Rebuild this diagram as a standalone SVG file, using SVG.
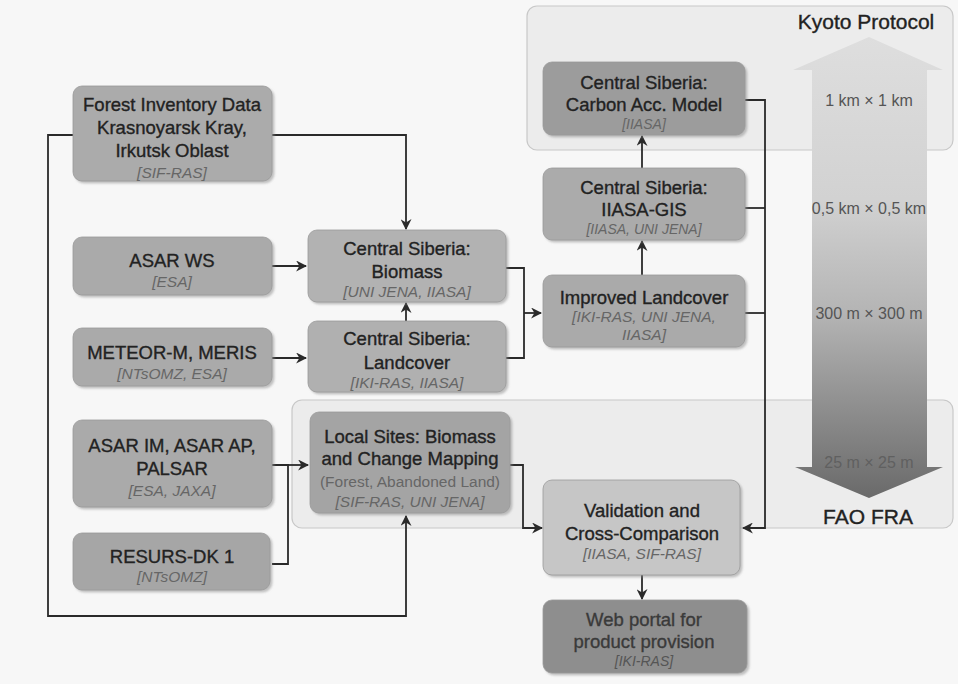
<svg xmlns="http://www.w3.org/2000/svg" width="958" height="684" viewBox="0 0 958 684">
<defs>
<marker id="ah" viewBox="0 0 10 10" refX="9" refY="5" markerWidth="11" markerHeight="11" markerUnits="userSpaceOnUse" orient="auto">
<path d="M0,0 L10,5 L0,10 L3,5 z" fill="#2a2a2a"/>
</marker>
<linearGradient id="bigArrow" x1="0" y1="0" x2="0" y2="1">
<stop offset="0" stop-color="#dedede"/>
<stop offset="0.35" stop-color="#d2d2d2"/>
<stop offset="0.6" stop-color="#b4b4b4"/>
<stop offset="1" stop-color="#6a6a6a"/>
</linearGradient>
<filter id="sh" x="-5%" y="-5%" width="115%" height="120%">
<feDropShadow dx="2" dy="2" stdDeviation="1" flood-color="#888" flood-opacity="0.5"/>
</filter>
</defs>
<style>
.bg{fill:#f7f7f7}
.cont{fill:#ececec;stroke:#c8c8c8;stroke-width:1.2}
.box{stroke:#9a9a9a;stroke-width:0.8;filter:url(#sh)}
.t{font-family:"Liberation Sans",Arial,sans-serif;font-size:18.5px;fill:#222;stroke:#222;stroke-width:0.35;text-anchor:middle}
.s{font-family:"Liberation Sans",Arial,sans-serif;font-size:15.5px;font-style:italic;fill:#666;text-anchor:middle}
.ss{font-family:"Liberation Sans",Arial,sans-serif;font-size:14px;font-style:italic;fill:#666;text-anchor:middle}
.p{font-family:"Liberation Sans",Arial,sans-serif;font-size:15.5px;fill:#666;text-anchor:middle}
.k{font-family:"Liberation Sans",Arial,sans-serif;font-size:21px;fill:#222;stroke:#222;stroke-width:0.35;text-anchor:middle}
.r{font-family:"Liberation Sans",Arial,sans-serif;font-size:16px;fill:#555;text-anchor:middle}
.c{fill:none;stroke:#2a2a2a;stroke-width:1.8}
</style>
<rect class="bg" x="0" y="0" width="958" height="684"/>

<g id="kyoto-region">
<rect class="cont" x="527" y="6" width="426" height="144" rx="10"/>
<text class="k" x="866" y="29">Kyoto Protocol</text>
</g>
<g id="fao-region">
<rect class="cont" x="292" y="400" width="661" height="128" rx="10"/>
</g>

<g id="scale-arrow">
<polygon points="869,37 943,70 927,70 927,467 943,467 869,498 795,467 812,467 812,70 793,70" fill="url(#bigArrow)"/>
<text class="r" x="869" y="106">1 km × 1 km</text>
<text class="r" x="869" y="214">0,5 km × 0,5 km</text>
<text class="r" x="869" y="319">300 m × 300 m</text>
<text class="r" x="869" y="468" style="fill:#606060">25 m × 25 m</text>
<text class="k" x="868" y="524">FAO FRA</text>
</g>

<g id="connectors">
<polyline class="c" points="73,135 48,135 48,616 406,616 406,516" marker-end="url(#ah)"/>
<polyline class="c" points="272,135 406,135 406,229" marker-end="url(#ah)"/>
<line class="c" x1="272" y1="266" x2="306" y2="266" marker-end="url(#ah)"/>
<line class="c" x1="272" y1="358" x2="306" y2="358" marker-end="url(#ah)"/>
<line class="c" x1="406" y1="321" x2="406" y2="303" marker-end="url(#ah)"/>
<polyline class="c" points="506,268 524,268 524,358 506,358"/>
<line class="c" x1="524" y1="313" x2="541" y2="313" marker-end="url(#ah)"/>
<line class="c" x1="642" y1="275" x2="642" y2="241" marker-end="url(#ah)"/>
<line class="c" x1="642" y1="168" x2="642" y2="136" marker-end="url(#ah)"/>
<polyline class="c" points="745,100 765,100 765,528 743,528" marker-end="url(#ah)"/>
<line class="c" x1="745" y1="208" x2="765" y2="208"/>
<line class="c" x1="745" y1="313" x2="765" y2="313"/>
<polyline class="c" points="272,465 288,465 288,564 272,564"/>
<line class="c" x1="288" y1="465" x2="308" y2="465" marker-end="url(#ah)"/>
<polyline class="c" points="510,465 523,465 523,528 542,528" marker-end="url(#ah)"/>
<line class="c" x1="642" y1="575" x2="642" y2="599" marker-end="url(#ah)"/>
</g>

<g id="forest-inventory">
<rect class="box" x="73" y="86" width="199" height="95" rx="9" fill="#ababab"/>
<text class="t" x="172" y="111">Forest Inventory Data</text>
<text class="t" x="172" y="134">Krasnoyarsk Kray,</text>
<text class="t" x="172" y="157">Irkutsk Oblast</text>
<text class="s" x="172" y="178">[SIF-RAS]</text>
</g>
<g id="asar-ws">
<rect class="box" x="73" y="237" width="199" height="58" rx="9" fill="#aaaaaa"/>
<text class="t" x="172" y="267">ASAR WS</text>
<text class="s" x="172" y="287">[ESA]</text>
</g>
<g id="meteor">
<rect class="box" x="73" y="328" width="199" height="58" rx="9" fill="#aaaaaa"/>
<text class="t" x="172" y="359">METEOR-M, MERIS</text>
<text class="s" x="172" y="379">[NTsOMZ, ESA]</text>
</g>
<g id="asar-im">
<rect class="box" x="73" y="420" width="199" height="87" rx="9" fill="#aaaaaa"/>
<text class="t" x="172" y="452">ASAR IM, ASAR AP,</text>
<text class="t" x="172" y="475">PALSAR</text>
<text class="s" x="172" y="496">[ESA, JAXA]</text>
</g>
<g id="resurs">
<rect class="box" x="73" y="533" width="197" height="57" rx="9" fill="#a6a6a6"/>
<text class="t" x="172" y="563">RESURS-DK 1</text>
<text class="s" x="172" y="582">[NTsOMZ]</text>
</g>
<g id="cs-biomass">
<rect class="box" x="308" y="230" width="198" height="72" rx="9" fill="#b2b2b2"/>
<text class="t" x="407" y="255">Central Siberia:</text>
<text class="t" x="407" y="278">Biomass</text>
<text class="s" x="407" y="297">[UNI JENA, IIASA]</text>
</g>
<g id="cs-landcover">
<rect class="box" x="308" y="321" width="198" height="71" rx="9" fill="#b0b0b0"/>
<text class="t" x="407" y="345">Central Siberia:</text>
<text class="t" x="407" y="369">Landcover</text>
<text class="s" x="407" y="388">[IKI-RAS, IIASA]</text>
</g>
<g id="local-sites">
<rect class="box" x="310" y="412" width="200" height="101" rx="9" fill="#a4a4a4"/>
<text class="t" x="410" y="443">Local Sites: Biomass</text>
<text class="t" x="410" y="465">and Change Mapping</text>
<text class="p" x="410" y="487">(Forest, Abandoned Land)</text>
<text class="s" x="410" y="507">[SIF-RAS, UNI JENA]</text>
</g>
<g id="carbon-model">
<rect class="box" x="543" y="62" width="202" height="73" rx="9" fill="#9c9c9c"/>
<text class="t" x="644" y="89">Central Siberia:</text>
<text class="t" x="644" y="111">Carbon Acc. Model</text>
<text class="ss" x="644" y="129">[IIASA]</text>
</g>
<g id="iiasa-gis">
<rect class="box" x="543" y="168" width="202" height="72" rx="9" fill="#ababab"/>
<text class="t" x="644" y="194">Central Siberia:</text>
<text class="t" x="644" y="216">IIASA-GIS</text>
<text class="ss" x="644" y="234">[IIASA, UNI JENA]</text>
</g>
<g id="improved-landcover">
<rect class="box" x="543" y="275" width="202" height="72" rx="9" fill="#aaaaaa"/>
<text class="t" x="644" y="304">Improved Landcover</text>
<text class="s" x="644" y="322">[IKI-RAS, UNI JENA,</text>
<text class="s" x="644" y="340">IIASA]</text>
</g>
<g id="validation">
<rect class="box" x="543" y="480" width="197" height="95" rx="9" fill="#c6c6c6"/>
<text class="t" x="642" y="517">Validation and</text>
<text class="t" x="642" y="540">Cross-Comparison</text>
<text class="s" x="642" y="559">[IIASA, SIF-RAS]</text>
</g>
<g id="web-portal">
<rect class="box" x="543" y="600" width="204" height="73" rx="9" fill="#8e8e8e"/>
<text class="t" x="644" y="626" style="fill:#3a3a3a;stroke:#3a3a3a">Web portal for</text>
<text class="t" x="644" y="648" style="fill:#3a3a3a;stroke:#3a3a3a">product provision</text>
<text class="ss" x="644" y="666" style="fill:#555">[IKI-RAS]</text>
</g>
</svg>
